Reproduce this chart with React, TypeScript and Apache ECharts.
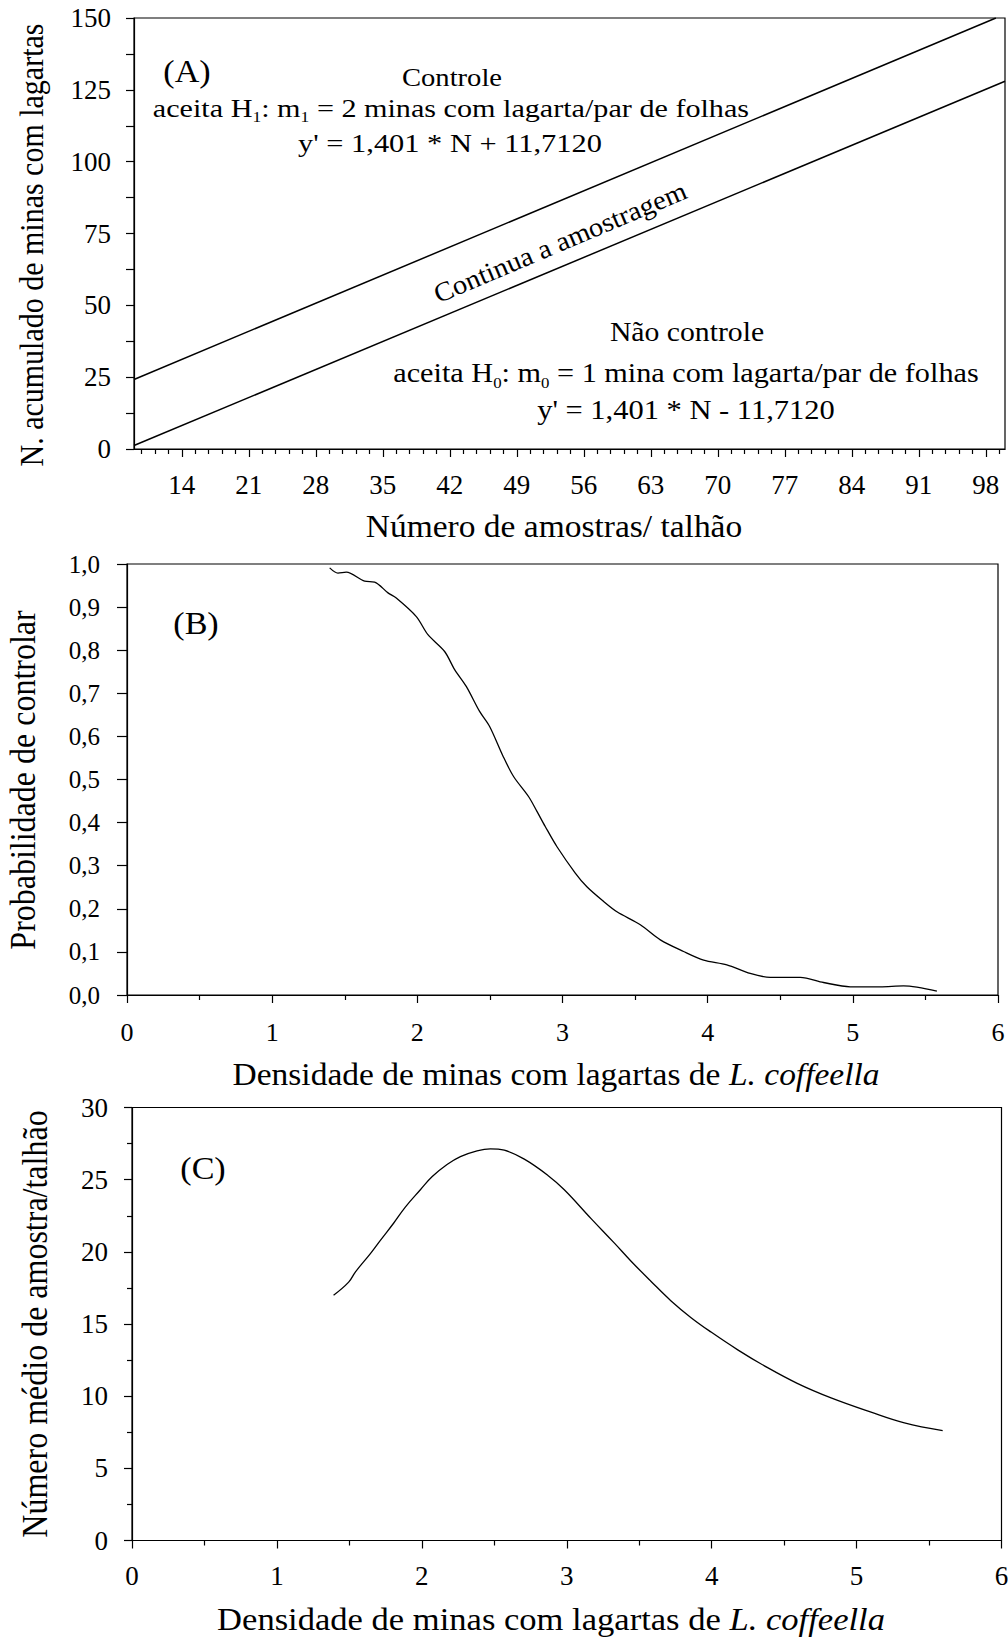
import React, { useEffect, useRef } from "react";
import * as echarts from "echarts";

const FONT = '"Liberation Serif", "Times New Roman", Times, serif';

// ---------- Panel A ----------
const aXMin = 9;
const aXMax = 100;
const aXTicks = [14, 21, 28, 35, 42, 49, 56, 63, 70, 77, 84, 91, 98];
const aYMin = 0;
const aYMax = 150;
const aYInterval = 25;
// upper decision line (Controle) and lower decision line (Não controle)
const aUpper = [
  [9, 24.2],
  [99.05, 150],
];
const aLower = [
  [9, 1.2],
  [100, 128.0],
];

// ---------- Panel B ----------
const bCurve = [
  [1.396, 0.991], [1.453, 0.979], [1.511, 0.981], [1.637, 0.96], [1.706, 0.958],
  [1.798, 0.933], [1.855, 0.921], [1.993, 0.878], [2.073, 0.836], [2.188, 0.797],
  [2.257, 0.755], [2.337, 0.716], [2.429, 0.658], [2.498, 0.623], [2.592, 0.553],
  [2.663, 0.507], [2.767, 0.46], [2.824, 0.426], [2.881, 0.391], [2.962, 0.344],
  [3.088, 0.283], [3.168, 0.251], [3.283, 0.217], [3.375, 0.193], [3.536, 0.163],
  [3.674, 0.128], [3.834, 0.101], [3.972, 0.081], [4.132, 0.07], [4.293, 0.05],
  [4.431, 0.041], [4.638, 0.041], [4.798, 0.029], [4.982, 0.019], [5.189, 0.019],
  [5.349, 0.021], [5.579, 0.009],
];

// ---------- Panel C ----------
const cCurve = [
  [1.391, 16.99], [1.495, 17.9], [1.541, 18.6], [1.645, 19.88], [1.714, 20.8],
  [1.805, 21.98], [1.886, 23.1], [1.99, 24.3], [2.07, 25.2], [2.174, 26.05],
  [2.266, 26.6], [2.381, 27.0], [2.473, 27.14], [2.569, 27.04], [2.707, 26.42],
  [2.868, 25.31], [2.983, 24.3], [3.168, 22.3], [3.329, 20.6], [3.444, 19.35],
  [3.582, 17.95], [3.72, 16.6], [3.858, 15.44], [3.996, 14.44], [4.18, 13.21],
  [4.364, 12.1], [4.594, 10.87], [4.824, 9.88], [5.1, 8.89], [5.33, 8.15],
  [5.594, 7.61],
];

// minor ticks of panel A's x axis: every major interval split in 5
const aXMinor: number[] = (() => {
  const step = (aXTicks[1] - aXTicks[0]) / 5;
  const out: number[] = [];
  const majors = [aXTicks[0] - (aXTicks[1] - aXTicks[0]), ...aXTicks];
  majors.forEach((m) => {
    for (let k = 1; k < 5; k++) {
      const v = Math.round((m + k * step) * 100) / 100;
      if (v > aXMin && v < aXMax) out.push(v);
    }
  });
  return out;
})();

const BLACK = "#000";
const lineSt = { color: BLACK, width: 1.2 };

function baseAxis(extra: any) {
  return {
    type: "value",
    axisLine: { show: true, onZero: false, lineStyle: lineSt },
    axisTick: { show: true, inside: false, length: 8, lineStyle: lineSt },
    minorTick: { show: false },
    splitLine: { show: false },
    minorSplitLine: { show: false },
    axisLabel: { color: BLACK, fontSize: 26, fontFamily: FONT },
    ...extra,
  };
}

function txt(
  x: number,
  y: number,
  text: string,
  fontSize: number,
  opts: any = {}
) {
  return {
    type: "text",
    x,
    y,
    rotation: opts.rotation || 0,
    scaleX: opts.scaleX || 1,
    scaleY: opts.scaleY || 1,
    silent: true,
    style: {
      text,
      fontSize,
      fontFamily: FONT,
      fill: BLACK,
      align: "center",
      verticalAlign: "middle",
      rich: opts.rich,
    },
  };
}

function subRich(fs: number) {
  return {
    n: { fontSize: fs, fontFamily: FONT, fill: BLACK, lineHeight: 34, verticalAlign: "middle" },
    s: { fontSize: 15, fontFamily: FONT, fill: BLACK, lineHeight: 15, verticalAlign: "bottom" },
  };
}

function italRich(fs: number) {
  return {
    n: { fontSize: fs, fontFamily: FONT, fill: BLACK },
    i: { fontSize: fs, fontFamily: FONT, fontStyle: "italic", fill: BLACK },
  };
}

export default function App() {
  const ref = useRef<HTMLDivElement>(null);

  useEffect(() => {
    if (!ref.current) return;
    const chart = echarts.init(ref.current, null, { renderer: "svg" });

    const commaFmt = (v: number) => v.toFixed(1).replace(".", ",");

    const option: any = {
      animation: false,
      backgroundColor: "#fff",
      textStyle: { fontFamily: FONT, color: BLACK },
      grid: [
        { left: 134, top: 18, width: 871, height: 431, show: true, borderColor: BLACK, borderWidth: 1.2, containLabel: false, outerBoundsMode: "none" },
        { left: 127, top: 564, width: 871, height: 431, show: true, borderColor: BLACK, borderWidth: 1.2, containLabel: false, outerBoundsMode: "none" },
        { left: 132, top: 1107.5, width: 869.5, height: 433, show: true, borderColor: BLACK, borderWidth: 1.2, containLabel: false, outerBoundsMode: "none" },
      ],
      xAxis: [
        baseAxis({
          gridIndex: 0,
          position: "bottom",
          min: aXMin,
          max: aXMax,
          axisTick: { show: true, inside: false, length: 8, lineStyle: lineSt, customValues: aXTicks },
          axisLabel: { color: BLACK, fontSize: 27, fontFamily: FONT, margin: 22, customValues: aXTicks },
        }),
        baseAxis({
          gridIndex: 0,
          position: "bottom",
          min: aXMin,
          max: aXMax,
          axisLine: { show: false },
          axisTick: { show: true, inside: false, length: 5, lineStyle: lineSt, customValues: aXMinor },
          axisLabel: { show: false },
        }),
        baseAxis({
          gridIndex: 1,
          position: "bottom",
          min: 0,
          max: 6,
          interval: 1,
          minorTick: { show: true, splitNumber: 2, length: 5, lineStyle: lineSt },
          axisLabel: { color: BLACK, fontSize: 26, fontFamily: FONT, margin: 24 },
        }),
        baseAxis({
          gridIndex: 2,
          position: "bottom",
          min: 0,
          max: 6,
          interval: 1,
          minorTick: { show: true, splitNumber: 2, length: 5, lineStyle: lineSt },
          axisLabel: { color: BLACK, fontSize: 27, fontFamily: FONT, margin: 22 },
        }),
      ],
      yAxis: [
        baseAxis({
          gridIndex: 0,
          min: aYMin,
          max: aYMax,
          interval: aYInterval,
          minorTick: { show: true, splitNumber: 2, length: 8, lineStyle: lineSt },
          axisLabel: { color: BLACK, fontSize: 27, fontFamily: FONT, margin: 23 },
        }),
        baseAxis({
          gridIndex: 1,
          min: 0,
          max: 1,
          interval: 0.1,
          axisTick: { show: true, inside: false, length: 10, lineStyle: lineSt },
          axisLabel: { color: BLACK, fontSize: 25, fontFamily: FONT, margin: 27, formatter: commaFmt },
        }),
        baseAxis({
          gridIndex: 2,
          min: 0,
          max: 30,
          interval: 5,
          minorTick: { show: true, splitNumber: 2, length: 5, lineStyle: lineSt },
          axisLabel: { color: BLACK, fontSize: 27, fontFamily: FONT, margin: 24 },
        }),
      ],
      series: [
        { type: "line", xAxisIndex: 0, yAxisIndex: 0, data: aUpper, symbol: "none", silent: true, lineStyle: { color: BLACK, width: 1.5 } },
        { type: "line", xAxisIndex: 0, yAxisIndex: 0, data: aLower, symbol: "none", silent: true, lineStyle: { color: BLACK, width: 1.5 } },
        { type: "line", xAxisIndex: 2, yAxisIndex: 1, data: bCurve, symbol: "none", silent: true, smooth: 0.3, lineStyle: { color: BLACK, width: 1.3 } },
        { type: "line", xAxisIndex: 3, yAxisIndex: 2, data: cCurve, symbol: "none", silent: true, smooth: 0.4, lineStyle: { color: BLACK, width: 1.3 } },
      ],
      graphic: [
        // panel labels
        txt(187, 72, "(A)", 31, { scaleX: 1.1 }),
        txt(196, 624, "(B)", 31, { scaleX: 1.1 }),
        txt(203, 1169, "(C)", 31, { scaleX: 1.1 }),
        // Panel A annotations
        txt(452, 77, "Controle", 26, { scaleX: 1.1 }),
        txt(451, 108, "{n|aceita H}{s|1}{n|: m}{s|1}{n| = 2 minas com lagarta/par de folhas}", 26, { scaleX: 1.16, rich: subRich(26) }),
        txt(450, 143, "y' = 1,401 * N + 11,7120", 26, { scaleX: 1.17 }),
        txt(687, 332, "Não controle", 27, { scaleX: 1.1 }),
        txt(686, 373, "{n|aceita H}{s|0}{n|: m}{s|0}{n| = 1 mina com lagarta/par de folhas}", 27, { scaleX: 1.12, rich: subRich(27) }),
        txt(686, 410, "y' = 1,401 * N - 11,7120", 27, { scaleX: 1.13 }),
        txt(560, 242, "Continua a amostragem", 27, { rotation: 0.4, scaleX: 1.06 }),
        // axis titles
        txt(554, 526, "Número de amostras/ talhão", 31, { scaleX: 1.08 }),
        txt(32, 245, "N. acumulado de minas com lagartas", 30, { rotation: Math.PI / 2, scaleY: 1.1 }),
        txt(556, 1074, "{n|Densidade de minas com lagartas de }{i|L. coffeella}", 31, { scaleX: 1.08, rich: italRich(31) }),
        txt(23, 780, "Probabilidade de controlar", 32, { rotation: Math.PI / 2, scaleY: 1.1 }),
        txt(551, 1619, "{n|Densidade de minas com lagartas de }{i|L. coffeella}", 32, { scaleX: 1.08, rich: italRich(32) }),
        txt(35, 1324, "Número médio de amostra/talhão", 32, { rotation: Math.PI / 2, scaleY: 1.1 }),
      ],
    };

    chart.setOption(option);
    return () => chart.dispose();
  }, []);

  return (
    <div
      ref={ref}
      style={{ position: "absolute", left: 0, top: 0, width: 1008, height: 1638, background: "#fff" }}
    />
  );
}
